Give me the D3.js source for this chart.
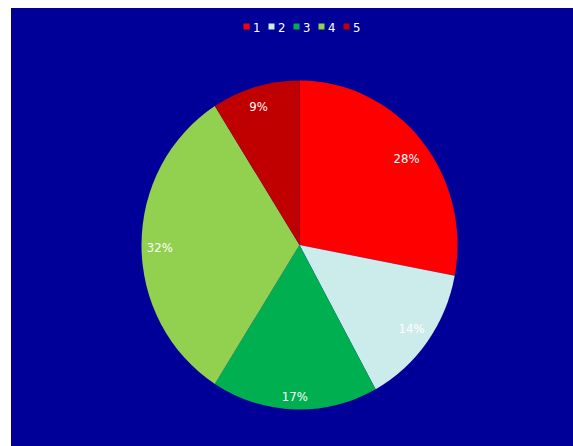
<!DOCTYPE html>
<html>
<head>
<meta charset="utf-8">
<script src="https://cdn.jsdelivr.net/npm/d3@7"></script>
<style>
  html, body { margin: 0; padding: 0; background: #ffffff; }
  svg { display: block; }
</style>
</head>
<body>
<svg id="chart" width="573" height="446"></svg>
<script>
// Pie data: category names, values and slice colours
const categories = ["1", "2", "3", "4", "5"];
const values = [28, 14, 17, 32, 9];
const colors = ["#FF0000", "#CCECEC", "#00B050", "#92D050", "#C00000"];

const W = 573, H = 446;
const svg = d3.select("#chart");
const FONT = "'DejaVu Sans Condensed', 'DejaVu Sans', sans-serif";

// Plot area background
svg.append("rect")
  .attr("x", 11).attr("y", 8)
  .attr("width", W - 11).attr("height", H - 8)
  .attr("fill", "#000099");

// Pie geometry (slightly taller than wide)
const cx = 299.5, cy = 245;
const r = 158, yScale = 164.5 / 158;

const pie = d3.pie().sort(null).value(d => d.value)
  .startAngle(0).endAngle(2 * Math.PI);
const data = categories.map((c, i) => ({ name: c, value: values[i], color: colors[i] }));
const arcs = pie(data);
const arc = d3.arc().innerRadius(0).outerRadius(r);

const g = svg.append("g")
  .attr("transform", `translate(${cx},${cy}) scale(1,${yScale})`);

g.selectAll("path.slice")
  .data(arcs)
  .join("path")
  .attr("class", "slice")
  .attr("d", arc)
  .attr("fill", d => d.data.color);

// Percentage labels placed "inside end": pushed out along the mid-angle
// until the label box touches the (inset) edge of the pie
const total = d3.sum(values);
const fmt = v => Math.round(v / total * 100) + "%";
const pad = 3, halfH = 11;

const labels = svg.append("g")
  .selectAll("text")
  .data(arcs)
  .join("text")
  .attr("text-anchor", "middle")
  .attr("dominant-baseline", "central")
  .attr("font-family", FONT)
  .attr("font-size", 13)
  .attr("fill", "#ffffff")
  .text(d => fmt(d.data.value));

labels.each(function(d) {
  const hw = this.getComputedTextLength() / 2 + 2;
  const a = (d.startAngle + d.endAngle) / 2;
  const sx = Math.sin(a), sy = -Math.cos(a);
  const R = r - pad;
  const fits = t => {
    for (const ox of [-hw, hw]) for (const oy of [-halfH, halfH]) {
      const x = t * sx + ox, y = t * sy + oy;
      if ((x / R) ** 2 + (y / (R * yScale)) ** 2 > 1) return false;
    }
    return true;
  };
  let lo = 0, hi = r * yScale;
  for (let k = 0; k < 40; k++) {
    const mid = (lo + hi) / 2;
    if (fits(mid)) lo = mid; else hi = mid;
  }
  d3.select(this)
    .attr("x", cx + lo * sx)
    .attr("y", cy + lo * sy + 2);
});

// Legend across the top
const legendX = d3.scalePoint().domain(categories).range([243.5, 343.5]);
const legend = svg.append("g")
  .selectAll("g")
  .data(data)
  .join("g")
  .attr("transform", d => `translate(${legendX(d.name)},0)`);

legend.append("rect")
  .attr("x", 0).attr("y", 23.5)
  .attr("width", 6).attr("height", 6)
  .attr("fill", d => d.color);

legend.append("text")
  .attr("x", 9.5).attr("y", 31.5)
  .attr("font-family", FONT)
  .attr("font-size", 13)
  .attr("fill", "#ffffff")
  .text(d => d.name);
</script>
</body>
</html>
